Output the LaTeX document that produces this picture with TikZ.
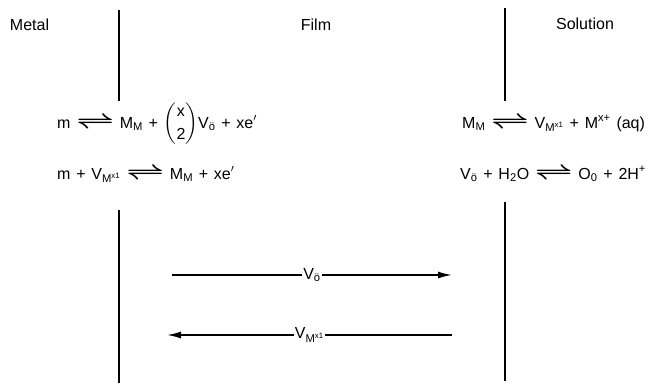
\documentclass[tikz,border=0pt]{standalone}
\usepackage{amsmath}
\usepackage{fontspec}
\setmainfont{Liberation Sans}
\usetikzlibrary{arrows.meta,positioning}
\newcommand{\gap}{\hspace{0.36em}}
\newcommand{\eqarrow}{\scalebox{1.9}[1.3]{$\boldsymbol{\rightleftharpoons}$}}
\newcommand{\Vo}{V\textsubscript{\"o}}
\newcommand{\Vm}{V\textsubscript{M\textsuperscript{x1}}}

\begin{document}
\begin{tikzpicture}[x=1pt,y=-1pt,
 lbl/.style={font=\fontsize{16}{18}\selectfont},
 eqn/.style={anchor=base west,inner sep=0pt,font=\fontsize{16}{18}\selectfont},
 wall/.style={line width=1.2pt},
 arr/.style={-{Latex[length=14pt,width=7pt]},line width=1.6pt},
 carrier/.style={fill=white,inner sep=1pt,font=\fontsize{16}{18}\selectfont}
]
\useasboundingbox (0,0) rectangle (657,389);
\node[lbl] (metal) at (29.5,25) {Metal};
\node[lbl] (film) at (316,25) {Film};
\node[lbl] (soln) at (585,24) {Solution};

% metal/film and film/solution interfaces
\coordinate (mf1) at (119,10);
\coordinate (mf2) at (119,101);
\coordinate (mf3) at (119,210);
\coordinate (mf4) at (119,383);
\coordinate (fs1) at (505,8);
\coordinate (fs2) at (505,101);
\coordinate (fs3) at (505,202);
\coordinate (fs4) at (505,381);
\draw[wall] (mf1)--(mf2) (mf3)--(mf4);
\draw[wall] (fs1)--(fs2) (fs3)--(fs4);

% interface reactions
\node[eqn] (mfa) at (57,128) {m\gap\eqarrow\gap M\textsubscript{M}\gap+\gap$\genfrac{(}{)}{0pt}{0}{\mathrm{x}}{\mathrm{2}}$\Vo\gap+\gap xe$'$};
\node[eqn] (mfb) at (57,179) {m\gap+\gap\Vm\gap\eqarrow\gap M\textsubscript{M}\gap+\gap xe$'$};
\node[eqn] (fsa) at (462,128) {M\textsubscript{M}\gap\eqarrow\gap\Vm\gap+\gap M\textsuperscript{x+}\gap(aq)};
\node[eqn] (fsb) at (460,179) {\Vo\gap+\gap H\textsubscript{2}O\gap\eqarrow\gap O\textsubscript{0}\gap+\gap2H\textsuperscript{+}};

% vacancy transport through the film
\coordinate (o1) at (172,275);
\coordinate (o2) at (452,275);
\coordinate (m1) at (452,335);
\coordinate (m2) at (167,335);
\draw[arr] (o1)--node[carrier]{\Vo}(o2);
\draw[arr] (m1)--node[carrier]{\Vm}(m2);
\end{tikzpicture}
\end{document}
